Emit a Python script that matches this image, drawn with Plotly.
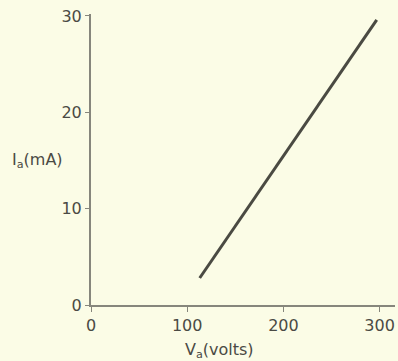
import plotly.graph_objects as go

# anode characteristic
va_volts = [113, 297]
ia_ma = [2.8, 29.6]

x_ticks = [0, 100, 200, 300]
y_ticks = [0, 10, 20, 30]

bg = "#fbfce6"
ink = "#4a4a42"
axis_col = "#86867c"
font = dict(family="'DejaVu Sans', sans-serif", size=16, color="#4a4a44")

fig = go.Figure()
fig.add_trace(go.Scatter(x=va_volts, y=ia_ma, mode="lines",
                         line=dict(color=ink, width=3), showlegend=False,
                         hoverinfo="skip"))

fig.update_xaxes(range=[0, 316], tickvals=x_ticks, ticks="outside", ticklen=5,
                 tickcolor=axis_col, showline=True, linecolor=axis_col, linewidth=2,
                 showgrid=False, zeroline=False, tickfont=font, automargin=False,
                 ticklabeloverflow="allow")
fig.update_yaxes(range=[0, 30.2], tickvals=y_ticks, ticks="outside", ticklen=4,
                 tickcolor=axis_col, showline=True, linecolor=axis_col, linewidth=2,
                 showgrid=False, zeroline=False, tickfont=font, automargin=False,
                 ticklabeloverflow="allow")

# axis titles placed like the original
fig.add_annotation(text="V<sub>a</sub>(volts)", xref="paper", yref="paper",
                   x=0.424, y=-0.155, xanchor="center", yanchor="middle",
                   showarrow=False, font=font)
fig.add_annotation(text="I<sub>a</sub>(mA)", xref="paper", yref="paper",
                   x=-0.175, y=0.498, xanchor="center", yanchor="middle",
                   showarrow=False, font=font)

fig.update_layout(width=398, height=361, paper_bgcolor=bg, plot_bgcolor=bg,
                  margin=dict(l=91, r=3, t=14, b=56, autoexpand=False))

# drop the default body margin so the figure fills the window
fig.write_html("out.html", config={"displayModeBar": False},
               post_script="document.body.style.margin='0';"
                           "document.body.style.overflow='hidden';")
